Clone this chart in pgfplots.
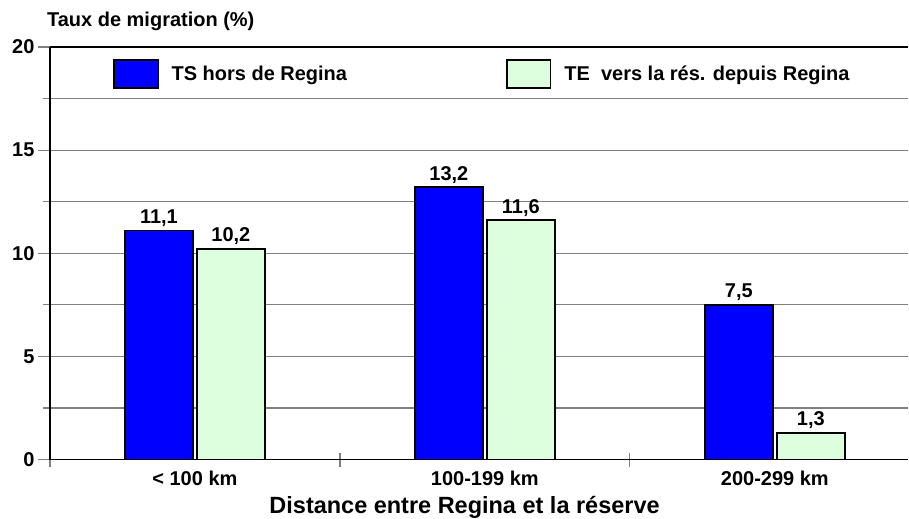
\documentclass[border=0pt]{standalone}
\usepackage{pgfplots}
\pgfplotsset{compat=1.18}
\usepackage{fontspec}
\setmainfont{Liberation Sans}
\definecolor{barblue}{RGB}{0,0,255}
\definecolor{bargreen}{RGB}{221,255,221}
\definecolor{gridgray}{RGB}{128,128,128}
\newcommand{\f}{\fontsize{20}{24}\selectfont\bfseries}
\begin{document}
\begin{tikzpicture}[font=\f]
\begin{axis}[
  at={(0pt,0pt)}, anchor=south west,
  scale only axis, width=859pt, height=413pt,
  xmin=-0.5, xmax=2.46, ymin=0, ymax=20,
  ybar=4pt, bar width=68pt,
  /pgf/number format/assume math mode=true,
  axis lines=left, axis line style={-, line width=1.6pt, black},
  xtick={0,1,2}, xticklabels={{< 100 km},{100-199 km},{200-299 km}},
  minor xtick={-0.5,0.5,1.5},
  major x tick style={draw=none},
  minor x tick style={gridgray, line width=1.2pt},
  ytick={0,5,10,15,20}, minor ytick={2.5,7.5,12.5,17.5},
  ytick style={gridgray, line width=1.2pt},
  ymajorgrids, yminorgrids,
  grid style={gridgray, line width=1.2pt},
  tick align=center,
  major tick length=24pt, minor tick length=14pt,
  tick label style={font=\f},
  xticklabel style={yshift=4pt},
  xlabel={Distance entre Regina et la réserve},
  xlabel style={font=\fontsize{23.5}{28}\selectfont\bfseries, at={(rel axis cs:0.4831,0)}, anchor=base, yshift=-54pt, inner sep=0pt},
  legend columns=2,
  legend style={at={(rel axis cs:0.0733,0.9346)}, anchor=west, draw=none, fill=none, font=\f, inner sep=0pt,
    /tikz/every odd column/.append style={column sep=11pt},
    /tikz/every even column/.append style={column sep=157pt}},
  legend image code/.code={\draw[#1, line width=1.6pt] (0pt,-14pt) rectangle (44pt,14pt);},
  nodes near coords={\pgfmathprintnumber[fixed,fixed zerofill,precision=1,use comma]{\pgfplotspointmeta}},
  every node near coord/.append style={font=\f, black},
]
\addplot[fill=barblue, draw=black, line width=1.6pt]
  coordinates {(0,11.1) (1,13.2) (2,7.5)};
\addlegendentry{TS hors de Regina}
\addplot[fill=bargreen, draw=black, line width=1.6pt]
  coordinates {(0,10.2) (1,11.6) (2,1.3)};
\addlegendentry{TE\ \ vers la rés. depuis Regina}
\draw[black, line width=1.6pt] (rel axis cs:0,1) -- (rel axis cs:1,1);
\end{axis}
\node[anchor=base west, inner sep=0pt, font=\f] at (-3pt,433pt) {Taux de migration (\%)};
\path[use as bounding box] (-50pt,-59pt) rectangle (859pt,460pt);
\end{tikzpicture}
\end{document}
